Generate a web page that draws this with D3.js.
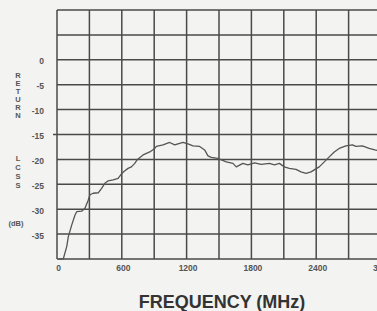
<!DOCTYPE html>
<html>
<head>
<meta charset="utf-8">
<script src="https://cdn.jsdelivr.net/npm/d3@7"></script>
<style>
  body { margin: 0; background: #f3f3f1; }
  svg { display: block; }
</style>
</head>
<body>
<div id="chart"></div>
<script>
// frequency in MHz and return loss in dB
const freq = [14, 58, 90, 105, 136, 166, 182, 228, 259, 289, 305, 335, 382, 413, 443, 474, 520, 566, 597, 628, 658, 689, 720, 745, 797, 859, 905, 920, 982, 1043, 1090, 1166, 1213, 1259, 1321, 1367, 1398, 1429, 1490, 1567, 1629, 1660, 1721, 1767, 1829, 1890, 1967, 2013, 2059, 2105, 2151, 2213, 2259, 2306, 2352, 2382, 2428, 2475, 2521, 2567, 2613, 2675, 2736, 2767, 2828, 2890, 2943, 3000]
const loss = [-40, -40, -37.5, -35.5, -33.2, -31.2, -30.5, -30.4, -29.8, -28.2, -27.1, -26.8, -26.7, -25.8, -24.8, -24.3, -24.1, -23.8, -22.9, -22.3, -21.8, -21.5, -20.8, -20.0, -19.1, -18.5, -17.8, -17.4, -17.1, -16.6, -17.1, -16.6, -16.9, -17.3, -17.4, -18.1, -19.3, -19.6, -19.8, -20.5, -20.8, -21.5, -20.8, -21.1, -20.7, -21.0, -20.8, -21.1, -20.8, -21.5, -21.8, -22.0, -22.5, -22.8, -22.5, -22.1, -21.5, -20.5, -19.5, -18.5, -17.8, -17.3, -17.1, -17.4, -17.3, -17.8, -18.1, -18.3]

const xTicks = [0, 600, 1200, 1800, 2400, 3000]
const yTicks = [0, -5, -10, -15, -20, -25, -30, -35]
const yWord1 = ["R", "E", "T", "U", "R", "N"]
const yWord2 = ["L", "C", "S", "S"]

const width = 377
const height = 311
const ink = "#4a4a4a"

const svg = d3.select("#chart")
  .append("svg")
    .attr("width", width)
    .attr("height", height)

svg.append("rect")
    .attr("width", width)
    .attr("height", height)
    .attr("fill", "#f3f3f1")

const x = d3.scaleLinear().domain([0, 3000]).range([57, 381])
const y = d3.scaleLinear().domain([-40, 10]).range([259, 10])

// grid, every 300 MHz and every 5 dB
svg.append("g")
  .selectAll("line")
  .data(d3.range(0, 3001, 300))
  .join("line")
    .attr("x1", d => x(d)).attr("x2", d => x(d))
    .attr("y1", y(10)).attr("y2", y(-40))
    .attr("stroke", ink)
    .attr("stroke-width", 1.5)

svg.append("g")
  .selectAll("line")
  .data(d3.range(-40, 11, 5))
  .join("line")
    .attr("x1", d => d == -15 ? x(0) - 4 : x(0)).attr("x2", x(3000))
    .attr("y1", d => y(d)).attr("y2", d => y(d))
    .attr("stroke", ink)
    .attr("stroke-width", 1.5)

// tick labels
svg.append("g")
  .selectAll("text")
  .data(xTicks)
  .join("text")
    .attr("x", d => x(d) + 1.5)
    .attr("y", 271)
    .attr("text-anchor", "middle")
    .attr("font-family", "Liberation Sans, Arial, sans-serif")
    .attr("font-size", 8.5)
    .attr("font-weight", "bold")
    .attr("fill", "#555")
    .text(d => d)

svg.append("g")
  .selectAll("text")
  .data(yTicks)
  .join("text")
    .attr("x", 44)
    .attr("y", d => y(d) + 4.5)
    .attr("text-anchor", "end")
    .attr("font-family", "Liberation Sans, Arial, sans-serif")
    .attr("font-size", 8.5)
    .attr("font-weight", "bold")
    .attr("fill", "#555")
    .text(d => d)

// stacked axis title
const letters = svg.append("g")
    .attr("font-family", "Liberation Sans, Arial, sans-serif")
    .attr("font-size", 7.5)
    .attr("font-weight", "bold")
    .attr("fill", "#555")
    .attr("text-anchor", "middle")

letters.selectAll(".w1")
  .data(yWord1)
  .join("text")
    .attr("class", "w1")
    .attr("x", 18)
    .attr("y", (d, i) => 78 + i * 8)
    .text(d => d)

letters.selectAll(".w2")
  .data(yWord2)
  .join("text")
    .attr("class", "w2")
    .attr("x", 18)
    .attr("y", (d, i) => 161 + i * 9)
    .text(d => d)

letters.append("text")
    .attr("x", 16)
    .attr("y", 226)
    .attr("font-size", 7.5)
    .text("(dB)")

svg.append("text")
    .attr("x", 222)
    .attr("y", 308)
    .attr("text-anchor", "middle")
    .attr("font-family", "Liberation Sans, Arial, sans-serif")
    .attr("font-size", 18)
    .attr("font-weight", "bold")
    .attr("fill", "#333")
    .text("FREQUENCY (MHz)")

// the measured curve
const pts = freq.map((f, i) => [f, loss[i]])
svg.append("path")
    .datum(pts)
    .attr("fill", "none")
    .attr("stroke", "#555")
    .attr("stroke-width", 1.3)
    .attr("stroke-linejoin", "round")
    .attr("d", d3.line().x(d => x(d[0])).y(d => y(d[1])))
</script>
</body>
</html>
